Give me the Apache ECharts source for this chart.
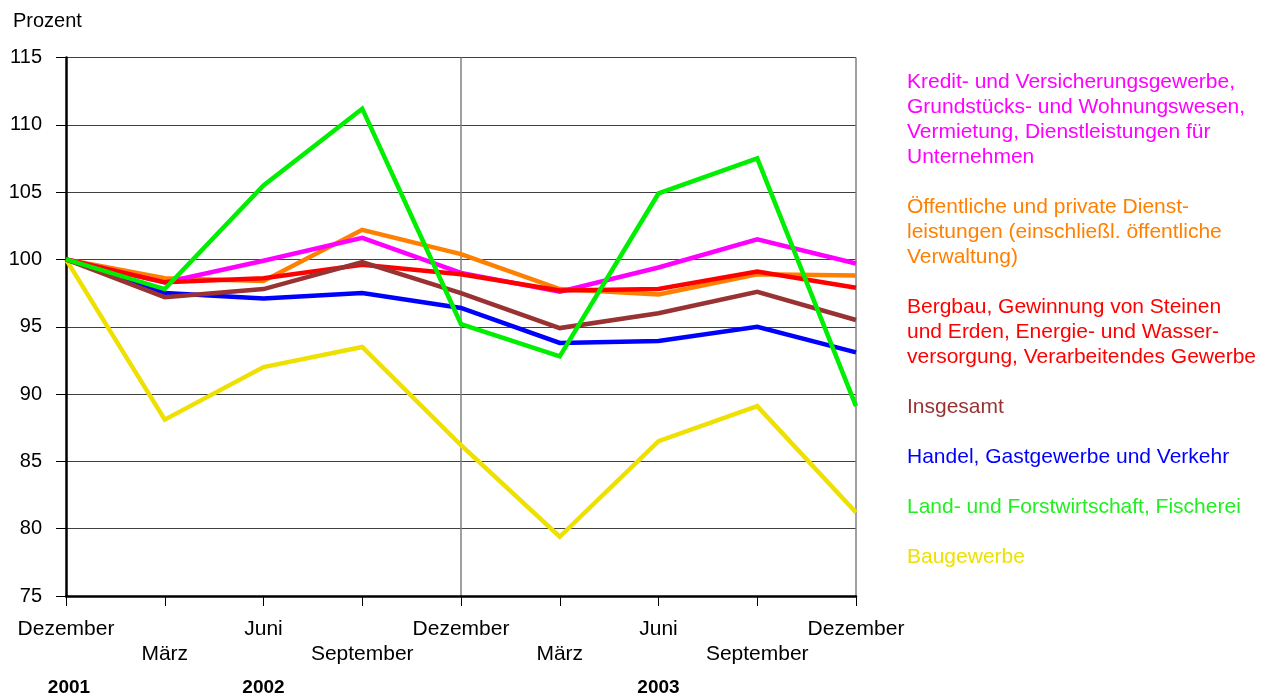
<!DOCTYPE html>
<html>
<head>
<meta charset="utf-8">
<script src="https://cdn.jsdelivr.net/npm/echarts@6/dist/echarts.min.js"></script>
<style>
html,body{margin:0;padding:0;background:#fff;}
#chart{width:1272px;height:697px;}
</style>
</head>
<body>
<div id="chart"></div>
<script>
const categories = ["Dezember","März","Juni","September","Dezember","März","Juni","September","Dezember"];
const years = ["2001","","2002","","","","2003","",""];
const yTicks = [75, 80, 85, 90, 95, 100, 105, 110, 115];

const nameKredit = "Kredit- und Versicherungsgewerbe,\nGrundstücks- und Wohnungswesen,\nVermietung, Dienstleistungen für\nUnternehmen";
const nameOeff = "Öffentliche und private Dienst-\nleistungen (einschließl. öffentliche\nVerwaltung)";
const nameBerg = "Bergbau, Gewinnung von Steinen\nund Erden, Energie- und Wasser-\nversorgung, Verarbeitendes Gewerbe";
const nameGesamt = "Insgesamt";
const nameHandel = "Handel, Gastgewerbe und Verkehr";
const nameLand = "Land- und Forstwirtschaft, Fischerei";
const nameBau = "Baugewerbe";

const kredit    = [100, 98.3, 99.9, 101.6, 99.0, 97.6, 99.4, 101.5, 99.7];
const oeff      = [100, 98.6, 98.4, 102.2, 100.4, 97.8, 97.4, 98.9, 98.8];
const bergbau   = [100, 98.3, 98.6, 99.6, 98.9, 97.7, 97.8, 99.1, 97.9];
const insgesamt = [100, 97.2, 97.8, 99.8, 97.5, 94.9, 96.0, 97.6, 95.5];
const handel    = [100, 97.5, 97.1, 97.5, 96.4, 93.8, 93.95, 95.0, 93.1];
const land      = [100, 97.8, 105.5, 111.2, 95.2, 92.8, 104.9, 107.5, 89.1];
const bau       = [100, 88.1, 92.0, 93.5, 86.2, 79.4, 86.5, 89.1, 81.2];

const colors = {
  kredit: "#ff00ff", oeff: "#ff8000", berg: "#ff0000", gesamt: "#993333",
  handel: "#0000ff", land: "#00ee00", bau: "#eee000"
};

const FONT = "Liberation Sans, Arial, sans-serif";

function mk(name, data, color) {
  return {
    name: name, type: "line", data: data, symbol: "none",
    lineStyle: { width: 4.5, color: color, join: "miter" },
    itemStyle: { color: color },
    emphasis: { disabled: true }
  };
}

const chart = echarts.init(document.getElementById("chart"), null, { renderer: "canvas" });
chart.setOption({
  animation: false,
  backgroundColor: "#ffffff",
  title: {
    text: "Prozent", left: 8, top: 6,
    textStyle: { fontFamily: FONT, fontSize: 20, fontWeight: "normal", color: "#000" }
  },
  grid: { left: 66, right: 416, top: 57.5, bottom: 99.5, containLabel: false },
  legend: {
    orient: "vertical", left: 902, top: 70, padding: 0,
    itemGap: 25, itemWidth: 0, itemHeight: 0, icon: "none",
    selectedMode: false,
    textStyle: { fontFamily: FONT, fontSize: 21, lineHeight: 25 },
    data: [
      { name: nameKredit, textStyle: { color: colors.kredit } },
      { name: nameOeff, textStyle: { color: colors.oeff } },
      { name: nameBerg, textStyle: { color: colors.berg } },
      { name: nameGesamt, textStyle: { color: colors.gesamt } },
      { name: nameHandel, textStyle: { color: colors.handel } },
      { name: nameLand, textStyle: { color: "#22ee22" } },
      { name: nameBau, textStyle: { color: colors.bau } }
    ]
  },
  xAxis: {
    type: "category", data: categories, boundaryGap: false,
    axisLine: { lineStyle: { color: "#000", width: 2.5 } },
    axisTick: { show: true, length: 10, interval: 0, lineStyle: { color: "#000", width: 1 } },
    splitLine: {
      show: true,
      interval: function (i) { return i === 4 || i === 8; },
      lineStyle: { color: "#808080", width: 1.5 }
    },
    axisLabel: {
      interval: 0, margin: 21,
      formatter: function (v, i) {
        const row = (i % 2 === 0) ? "{a|" + v + "}\n{a| }" : "{a| }\n{a|" + v + "}";
        const y = years[i];
        if (!y) return row;
        return row + "\n" + (i === 0 ? "{y0|" + y + "}" : "{y|" + y + "}");
      },
      rich: {
        a: { fontFamily: FONT, fontSize: 21, lineHeight: 25, color: "#000" },
        y: { fontFamily: FONT, fontSize: 19, fontWeight: "bold", lineHeight: 41, color: "#000" },
        y0: { fontFamily: FONT, fontSize: 19, fontWeight: "bold", lineHeight: 41, color: "#000", padding: [0, 0, 0, 6] }
      }
    }
  },
  yAxis: {
    type: "value", min: yTicks[0], max: yTicks[yTicks.length - 1], interval: 5,
    axisLine: { show: true, lineStyle: { color: "#000", width: 2.5 } },
    axisTick: { show: true, length: 10, inside: false, lineStyle: { color: "#000", width: 1 } },
    splitLine: { show: true, lineStyle: { color: "#404040", width: 1 } },
    axisLabel: { margin: 24, fontFamily: FONT, fontSize: 20, color: "#000" }
  },
  series: [
    mk(nameBau, bau, colors.bau),
    mk(nameOeff, oeff, colors.oeff),
    mk(nameKredit, kredit, colors.kredit),
    mk(nameHandel, handel, colors.handel),
    mk(nameBerg, bergbau, colors.berg),
    mk(nameGesamt, insgesamt, colors.gesamt),
    mk(nameLand, land, colors.land)
  ]
});
</script>
</body>
</html>
